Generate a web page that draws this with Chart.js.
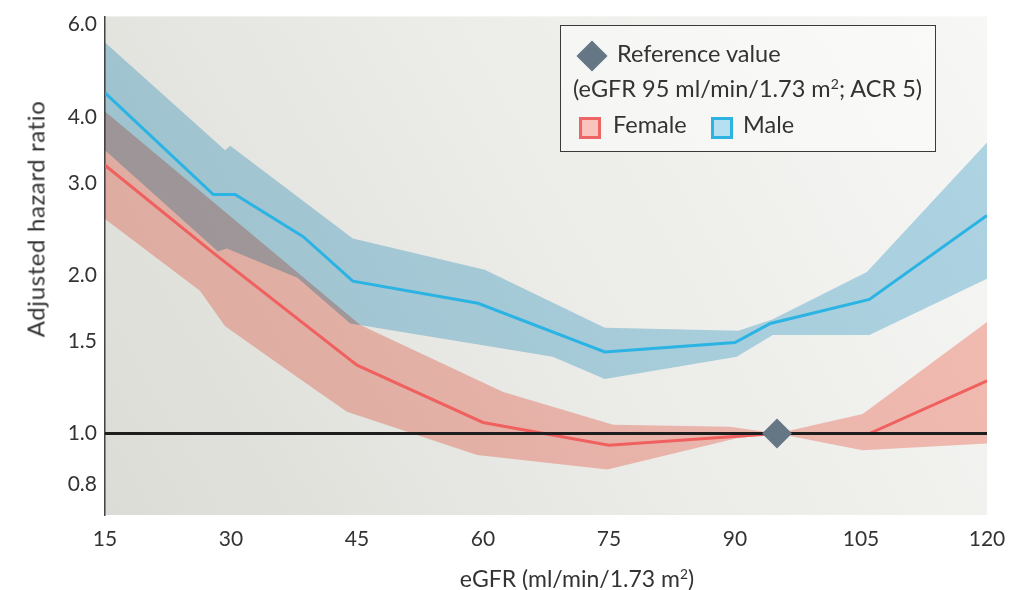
<!DOCTYPE html>
<html>
<head>
<meta charset="utf-8">
<script src="https://cdn.jsdelivr.net/npm/chart.js@4.4.1/dist/chart.umd.min.js"></script>
<style>
  html, body { margin: 0; padding: 0; background: #ffffff; }
  #wrap { position: relative; width: 1023px; height: 590px; font-family: Lato, "Open Sans", sans-serif; color: #333; }
  canvas { position: absolute; left: 0; top: 0; }
  .ytitle { position: absolute; left: 35px; top: 219px; transform: translate(-50%, -50%) rotate(-90deg); white-space: nowrap; font-size: 24px; letter-spacing: 0.6px; color: #333; }
  .xtitle { position: absolute; left: 577px; top: 578px; transform: translate(-50%, -50%); white-space: nowrap; font-size: 23px; color: #333; }
  .legend { position: absolute; left: 560px; top: 25px; width: 374px; height: 125px; border: 1.5px solid #3a3a3a; background: rgba(255,255,255,0.45); box-sizing: content-box; }
  .legend .row { position: absolute; left: 0; white-space: nowrap; font-size: 23.5px; color: #333; }
  .dia { position: absolute; width: 22px; height: 22px; background: #657784; transform: rotate(45deg); }
  .sq { position: absolute; width: 16px; height: 16px; border: 3px solid; }
  sup { font-size: 0.6em; vertical-align: 0; position: relative; top: -0.55em; }
</style>
</head>
<body>
<div id="wrap">
  <canvas id="c" width="1023" height="590"></canvas>
  <div class="ytitle">Adjusted hazard ratio</div>
  <div class="xtitle">eGFR (ml/min/1.73 m<sup>2</sup>)</div>
  <div class="legend">
    <div class="dia" style="left:20px; top:19px;"></div>
    <div class="row" style="left:56px; top:13px;">Reference value</div>
    <div class="row" style="left:12px; top:48px;">(eGFR 95 ml/min/1.73 m<sup>2</sup>; ACR 5)</div>
    <div class="sq" style="left:18px; top:91px; border-color:#ef6563; background:#f9c3be;"></div>
    <div class="row" style="left:52px; top:84px;">Female</div>
    <div class="sq" style="left:150px; top:91px; border-color:#2db3e1; background:#b7dff2;"></div>
    <div class="row" style="left:182px; top:84px;">Male</div>
  </div>
</div>
<script>
// ---- data (x = eGFR, y = adjusted hazard ratio) ----
const xTicks = [15, 30, 45, 60, 75, 90, 105, 120];
const yTicks = [0.8, 1.0, 1.5, 2.0, 3.0, 4.0, 6.0];

const maleLine  = [[15,4.45],[27.9,2.85],[30.5,2.85],[38.6,2.37],[44.5,1.95],[59.4,1.77],[74.5,1.43],[90,1.49],[94.2,1.62],[106,1.80],[120,2.60]];
const maleUpper = [[15,5.55],[29.3,3.46],[29.9,3.53],[44.5,2.35],[60.2,2.05],[74.5,1.59],[90.4,1.57],[94.5,1.65],[105.7,2.03],[120,3.58]];
const maleLower = [[15,3.46],[28.45,2.22],[29.5,2.25],[37.9,1.98],[44.2,1.62],[68.3,1.40],[74.5,1.27],[90.2,1.40],[94.5,1.54],[106,1.54],[120,1.97]];

const femaleLine  = [[15,3.24],[28,2.20],[45,1.35],[60,1.05],[75,0.95],[95,1.0],[106,1.0],[120,1.26]];
const femaleUpper = [[15,4.10],[45.4,1.61],[62.4,1.20],[75.5,1.04],[89.4,1.03],[95,1.0],[105.2,1.09],[120,1.63]];
const femaleLower = [[15,2.56],[26.3,1.87],[29.3,1.60],[38.2,1.27],[43.8,1.10],[59.3,0.91],[74.8,0.854],[90.2,0.98],[95,1.0],[105.2,0.93],[120,0.958]];

const referencePoint = [[95, 1.0]];
const unityLine = [[15, 1.0], [120, 1.0]];

const toPts = a => a.map(p => ({x: p[0], y: p[1]}));
const band = (up, lo) => toPts(up.concat(lo.slice().reverse()));

const bgPlugin = {
  id: 'bgMultiply',
  beforeDraw(chart) {
    const {ctx, chartArea: a} = chart;
    ctx.save();
    const g = ctx.createLinearGradient(a.left, a.bottom, a.right, a.top);
    g.addColorStop(0, '#dcdcd6');
    g.addColorStop(0.5, '#ebebe8');
    g.addColorStop(1, '#f7f7f5');
    ctx.fillStyle = g;
    ctx.fillRect(a.left, a.top, a.right - a.left, a.bottom - a.top);
    ctx.restore();
    ctx.globalCompositeOperation = 'multiply';
  },
  beforeDatasetsDraw(chart) {
    chart.ctx.globalCompositeOperation = 'source-over';
  }
};

new Chart(document.getElementById('c'), {
  type: 'line',
  data: {
    datasets: [
      { data: toPts(referencePoint), showLine: false, pointStyle: 'rectRot', pointRadius: 15, pointHoverRadius: 15,
        pointBackgroundColor: '#657784', pointBorderColor: '#657784', pointBorderWidth: 0, clip: false },
      { data: toPts(unityLine), borderColor: '#1e1e1e', borderWidth: 3, pointRadius: 0, fill: false },
      { data: toPts(maleLine), borderColor: '#2bb3e3', borderWidth: 3, pointRadius: 0, fill: false },
      { data: toPts(femaleLine), borderColor: '#f0605e', borderWidth: 3, pointRadius: 0, fill: false },
      { data: band(maleUpper, maleLower), borderWidth: 0, borderColor: 'rgba(0,0,0,0)', pointRadius: 0,
        backgroundColor: '#b4dcee', fill: 'shape' },
      { data: band(femaleUpper, femaleLower), borderWidth: 0, borderColor: 'rgba(0,0,0,0)', pointRadius: 0,
        backgroundColor: '#fcc3bb', fill: 'shape' }
    ]
  },
  options: {
    responsive: false,
    animation: false,
    events: [],
    layout: { autoPadding: false, padding: { top: 10, right: 36, left: 0, bottom: 0 } },
    plugins: { legend: { display: false }, tooltip: { enabled: false }, filler: { drawTime: 'beforeDatasetsDraw' } },
    elements: { line: { tension: 0 } },
    scales: {
      x: {
        type: 'linear', min: 15, max: 120,
        afterFit(s) { s.height = 75; },
        afterBuildTicks(s) { s.ticks = xTicks.map(v => ({value: v})); },
        grid: { display: false, drawTicks: false },
        border: { display: false },
        ticks: { padding: 12, color: '#333', font: { family: 'Lato', size: 21 }, maxRotation: 0, autoSkip: false }
      },
      y: {
        type: 'logarithmic', min: 0.71, max: 6.22,
        afterFit(s) { s.width = 105; },
        afterBuildTicks(s) { s.ticks = yTicks.map(v => ({value: v})); },
        grid: { display: false, drawTicks: false },
        border: { display: true, color: '#444', width: 1.5 },
        ticks: { padding: 8, color: '#333', font: { family: 'Lato', size: 21, lineHeight: 0.8 }, callback: v => Number(v).toFixed(1) }
      }
    }
  },
  plugins: [bgPlugin]
});
</script>
</body>
</html>
